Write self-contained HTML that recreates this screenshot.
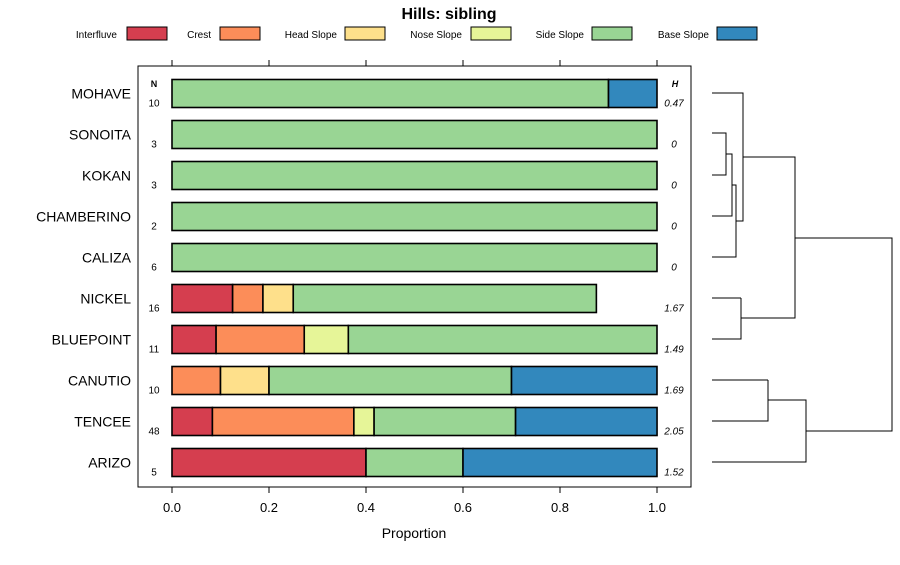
<!DOCTYPE html>
<html><head><meta charset="utf-8"><style>
body{margin:0;background:#fff;}
svg{font-family:"Liberation Sans",sans-serif;}
</style></head><body>
<svg id="c" width="900" height="560" xmlns="http://www.w3.org/2000/svg">
<text x="449" y="19" text-anchor="middle" font-size="16" font-weight="bold">Hills: sibling</text>
<g id="legend"></g>
<rect x="138" y="66" width="553" height="421" fill="none" stroke="#000" stroke-width="1"/>
<g id="axes"></g>
<g id="bars"></g>
<text x="154" y="87" text-anchor="middle" font-size="9" font-weight="bold">N</text>
<text x="675" y="87" text-anchor="middle" font-size="9" font-weight="bold" font-style="italic">H</text>
<text x="414" y="538" text-anchor="middle" font-size="14">Proportion</text>
<g id="dendro" fill="none" stroke="#000" stroke-width="1">
<path d="M712 133H726V175H712M726 154H732V216H712M732 185H736V257H712M736 221H743V93H712M743 157H795V318H741M741 298H712M741 298V339H712M795 238H892V431H806M768 380H712M768 380V421H712M768 400H806V462H712"/>
</g>
</svg>
<script>
const categories=["MOHAVE","SONOITA","KOKAN","CHAMBERINO","CALIZA","NICKEL","BLUEPOINT","CANUTIO","TENCEE","ARIZO"];
const seriesNames=["Interfluve","Crest","Head Slope","Nose Slope","Side Slope","Base Slope"];
const interfluve=[0,0,0,0,0,0.125,0.0909,0,0.0833,0.4];
const crest=[0,0,0,0,0,0.0625,0.1818,0.1,0.2917,0];
const headSlope=[0,0,0,0,0,0.0625,0,0.1,0,0];
const noseSlope=[0,0,0,0,0,0,0.0909,0,0.0417,0];
const sideSlope=[0.9,1,1,1,1,0.625,0.6364,0.5,0.2917,0.2];
const baseSlope=[0.1,0,0,0,0,0,0,0.3,0.2917,0.4];
const nValues=["10","3","3","2","6","16","11","10","48","5"];
const hValues=["0.47","0","0","0","0","1.67","1.49","1.69","2.05","1.52"];
const xTicks=[0,0.2,0.4,0.6,0.8,1.0];
const xTickLabels=["0.0","0.2","0.4","0.6","0.8","1.0"];
const colors=["#d53e4f","#fc8d59","#fee08b","#e6f598","#99d594","#3288bd"];
const NS="http://www.w3.org/2000/svg";
const X=v=>172+v*485;
const Y=i=>93.5+i*41;
function mk(tag,attrs,parent,txt){const e=document.createElementNS(NS,tag);for(const k in attrs)e.setAttribute(k,attrs[k]);if(txt!==undefined)e.textContent=txt;parent.appendChild(e);return e;}
const ax=document.getElementById('axes');
xTicks.forEach((t,i)=>{
 let l=mk('line',{x1:X(t),x2:X(t),y1:60,y2:66,stroke:'#000'},ax);
 
 
 let b=mk('line',{x1:X(t),x2:X(t),y1:487,y2:493,stroke:'#000'},ax);
 
 
 let tx=mk('text',{x:X(t),y:512,'text-anchor':'middle','font-size':13},ax,xTickLabels[i]);
 
 
});
const series=[interfluve,crest,headSlope,noseSlope,sideSlope,baseSlope];
const g=document.getElementById('bars');
categories.forEach((c,i)=>{
 let cum=0;
 series.forEach((s,k)=>{
  const v=s[i];
  if(v>0){
   let r=mk('rect',{x:X(cum),y:Y(i)-14,width:X(cum+v)-X(cum),height:28,fill:colors[k],stroke:'#000','stroke-width':1.6},g);
   
   
  }
  cum+=v;
 });
 let lb=mk('text',{x:131,y:Y(i)+5,'text-anchor':'end','font-size':14},g,c);
 
 
 let n=mk('text',{x:154,y:Y(i)+13,'text-anchor':'middle','font-size':10},g,nValues[i]);
 
 
 let h=mk('text',{x:674,y:Y(i)+13,'text-anchor':'middle','font-size':10,'font-style':'italic'},g,hValues[i]);
 
 
});
const lg=document.getElementById('legend');
const legTextEnd=[117,211,337,462,584,709];
const legRect=[127,220,345,471,592,717];
seriesNames.forEach((s,k)=>{
 let t=mk('text',{x:legTextEnd[k],y:38,'text-anchor':'end','font-size':10},lg,s);
 
 
 let r=mk('rect',{x:legRect[k],y:27,width:40,height:13,fill:colors[k],stroke:'#000'},lg);
 
 
});
</script>
</body></html>
